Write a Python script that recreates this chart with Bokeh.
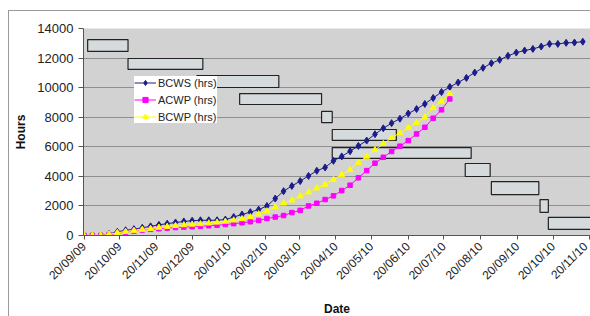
import math
import datetime as dt
from bokeh.plotting import figure
from bokeh.models import FixedTicker, Legend, LegendItem
from bokeh.embed import file_html
from bokeh.resources import INLINE

start = dt.date(2009, 9, 20)
tick_labels = ["20/09/09", "20/10/09", "20/11/09", "20/12/09", "20/01/10", "20/02/10",
               "20/03/10", "20/04/10", "20/05/10", "20/06/10", "20/07/10", "20/08/10",
               "20/09/10", "20/10/10", "20/11/10"]
tick_days = [(dt.datetime.strptime(s, "%d/%m/%y").date() - start).days for s in tick_labels]

# weekly reporting points (days since 20/09/09)
week_days = [7 * k for k in range(61)]

bcws = [0, 0, 0, 100, 250, 350, 430, 520, 620, 720, 800, 880, 950, 1000, 1030, 1030,
        1030, 1080, 1250, 1420, 1580, 1750, 2000, 2500, 3000, 3350, 3680, 4030, 4380,
        4600, 5050, 5350, 5700, 6060, 6420, 6850, 7250, 7600, 7900, 8250, 8550, 8900,
        9300, 9700, 10050, 10350, 10660, 11020, 11340, 11650, 11880, 12150, 12370,
        12510, 12620, 12780, 12960, 12960, 13030, 13050, 13110]
acwp = [0, 0, 0, 50, 150, 230, 300, 370, 420, 460, 500, 540, 570, 600, 630, 660, 690,
        740, 800, 860, 930, 1020, 1150, 1250, 1350, 1550, 1700, 2000, 2180, 2430, 2680,
        3040, 3400, 3900, 4390, 4890, 5290, 5680, 6040, 6420, 6870, 7320, 7930, 8500, 9240]
bcwp = [0, 0, 0, 80, 180, 260, 330, 400, 460, 540, 600, 660, 710, 750, 780, 830, 890,
        950, 1030, 1120, 1250, 1450, 1650, 1930, 2180, 2380, 2660, 2930, 3200, 3450, 3770,
        4120, 4440, 4930, 5340, 5790, 6200, 6600, 6940, 7280, 7620, 8000, 8630, 9080, 9580]

# Gantt task bars (days since 20/09/09, hours band)
task_start = [3, 37, 95, 131, 200, 209, 209, 321, 343, 384, 391]
task_end = [37, 100, 164, 200, 209, 263, 326, 342, 383, 391, 450]
task_low = [12450, 11230, 10010, 8860, 7640, 6430, 5210, 3990, 2770, 1560, 410]
task_high = [13250, 11970, 10820, 9600, 8390, 7170, 5950, 4870, 3650, 2430, 1220]

FONT = "Liberation Sans"

p = figure(frame_width=507, frame_height=207, x_range=(-0.5, 426.5), y_range=(0, 14000),
           output_backend="svg", toolbar_location=None,
           min_border_left=74, min_border_right=0, min_border_top=17, min_border_bottom=78)
# chart-area border: only its left and top edges are visible in the crop
p.styles = {"margin-left": "8px", "margin-top": "10px",
            "border-left": "1px solid #9a9a9a", "border-top": "1px solid #9a9a9a"}

p.background_fill_color = "#d2d2d2"
p.border_fill_color = "white"
p.outline_line_color = None
p.xgrid.visible = False
p.ygrid.grid_line_color = "#8f8f8f"
p.ygrid.grid_line_width = 1

p.yaxis.ticker = FixedTicker(ticks=list(range(0, 14001, 2000)))
p.xaxis.ticker = FixedTicker(ticks=tick_days)
p.xaxis.major_label_overrides = {d: l for d, l in zip(tick_days, tick_labels)}
p.xaxis.major_label_orientation = math.pi / 4

for ax in (p.xaxis[0], p.yaxis[0]):
    ax.minor_tick_line_color = None
    ax.major_tick_in = 0
    ax.major_tick_out = 4
    ax.axis_line_color = "#555555"
    ax.major_tick_line_color = "#555555"
    ax.major_label_text_font = FONT
    ax.major_label_text_color = "#222222"
    ax.axis_label_text_font = FONT
    ax.axis_label_text_font_style = "bold"
    ax.axis_label_text_font_size = "12px"
    ax.axis_label_text_color = "#111111"

p.yaxis.major_label_text_font_size = "13px"
p.yaxis.major_label_standoff = 5
p.yaxis.major_tick_out = 5
p.yaxis.axis_label = "Hours"
p.yaxis.axis_label_standoff = 6
p.xaxis.major_label_text_font_size = "12px"
p.xaxis.major_label_standoff = 5
p.xaxis.axis_label = "Date"
p.xaxis.axis_label_standoff = 12

p.quad(left=task_start, right=task_end, bottom=task_low, top=task_high,
       fill_color="#d5dadc", line_color="#222222", line_width=1.2)

r1l = p.line(week_days[:len(bcws)], bcws, line_color="#1c1c8a", line_width=1)
r1m = p.scatter(week_days[:len(bcws)], bcws, marker="diamond", size=7,
                fill_color="#1c1c8a", line_color="#1c1c8a")
r2l = p.line(week_days[:len(acwp)], acwp, line_color="#ff00ff", line_width=1)
r2m = p.scatter(week_days[:len(acwp)], acwp, marker="square", size=4.5,
                fill_color="#ff00ff", line_color="#ff00ff")
r3l = p.line(week_days[:len(bcwp)], bcwp, line_color="#ffff00", line_width=1)
r3m = p.scatter(week_days[:len(bcwp)], bcwp, marker="triangle", size=6,
                fill_color="#ffff00", line_color="#ffff00")

legend = Legend(items=[LegendItem(label="BCWS (hrs)", renderers=[r1l, r1m]),
                       LegendItem(label="ACWP (hrs)", renderers=[r2l, r2m]),
                       LegendItem(label="BCWP (hrs)", renderers=[r3l, r3m])],
                location=(51, 112), orientation="vertical")
legend.background_fill_color = "white"
legend.background_fill_alpha = 1
legend.border_line_color = None
legend.label_text_font = FONT
legend.label_text_font_size = "11px"
legend.label_text_color = "#222222"
legend.glyph_width = 22
legend.glyph_height = 13
legend.label_height = 13
legend.spacing = 4
legend.padding = 3
legend.margin = 0
legend.label_standoff = 2
p.add_layout(legend, "center")

open("out.html", "w").write(file_html(p, INLINE))
